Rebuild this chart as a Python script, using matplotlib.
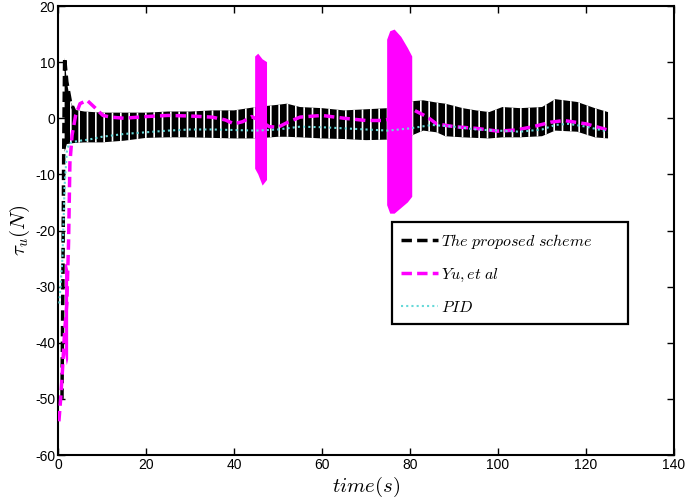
import matplotlib
matplotlib.use("Agg")
import matplotlib.pyplot as plt

plt.rcParams['font.family'] = ['Liberation Sans', 'DejaVu Sans']
plt.rcParams['mathtext.fontset'] = 'cm'
plt.rcParams['axes.unicode_minus'] = False
plt.rcParams['hatch.linewidth'] = 1.2

# proposed scheme: initial spike, then chattering band (upper / lower envelope)
prop_spike_t = [0.9, 1.1, 1.3, 1.5, 2.0, 2.8, 3.8]
prop_spike_v = [-50, -30, -5, 10.8, 6.5, 3.0, 1.2]

prop_t = [1.5, 2.0, 2.8, 3.8, 6, 10, 15, 20, 25, 30, 35, 40, 45, 50, 52, 55, 60, 65,
          70, 75, 80, 83, 86, 88, 92, 95, 98, 101, 105, 110, 113, 118, 122, 125]
prop_hi = [10.8, 6.5, 3.0, 1.5, 1.2, 1.0, 1.0, 1.0, 1.2, 1.2, 1.4, 1.4, 2.0, 2.4, 2.6,
           2.0, 1.8, 1.4, 1.6, 1.8, 3.0, 3.2, 2.8, 2.6, 1.8, 1.4, 1.1, 2.0, 1.8, 2.0,
           3.4, 2.9, 1.8, 1.1]
prop_lo = [-6, -4.6, -4.5, -4.4, -4.3, -4.3, -4.0, -3.5, -3.4, -3.4, -3.5, -3.6, -3.6,
           -3.3, -3.3, -3.4, -3.6, -3.7, -3.9, -3.8, -3.2, -2.2, -2.5, -3.2, -3.4, -3.5,
           -3.6, -3.4, -3.4, -3.2, -2.2, -2.4, -3.4, -3.6]

# Yu, et al
yu_t = [0.2, 0.6, 1.0, 1.5, 2.0, 2.4, 2.7, 3.2, 4.0, 5.0, 6.6, 8.5, 10.2, 12, 15, 20,
        25, 30, 35, 38, 40, 42, 44, 46, 48, 50, 52, 55, 60, 65, 70, 74, 76, 78, 80, 81,
        84, 86, 90, 95, 100, 104, 108, 112, 115, 120, 125]
yu_v = [-54, -50, -45, -38, -33, -22, -8, -3, 0.5, 2.6, 3.2, 1.8, 0.5, 0.2, 0.0, 0.3,
        0.5, 0.4, 0.2, -0.3, -1.0, -0.6, 0.3, -0.5, -1.5, -1.6, -0.8, 0.2, 0.5, 0.0,
        -0.4, -0.4, 0.0, 0.0, 1.0, 1.4, 0.2, -1.0, -1.5, -1.8, -2.3, -2.1, -1.5, -0.7,
        -0.4, -1.0, -2.1]

# Yu, et al chattering bursts
yu_b0_t = [1.6, 2.0, 2.3]
yu_b0_hi = [-26, -26, -27]
yu_b0_lo = [-42, -44, -43]
yu_b1_t = [44.8, 45.5, 46.5, 47.5]
yu_b1_hi = [11.0, 11.5, 10.5, 10.0]
yu_b1_lo = [-9, -10, -12, -11]
yu_b2_t = [74.8, 75.5, 76.5, 78, 79.5, 80.5]
yu_b2_hi = [14, 15.5, 15.8, 14.5, 12.5, 11]
yu_b2_lo = [-15.5, -17, -17, -16, -15, -14]

# PID
pid_t = [0.3, 1.0, 1.5, 2.0, 2.5, 3.5, 5, 7, 10, 15, 20, 25, 30, 35, 40, 45, 50, 55,
         60, 65, 70, 75, 80, 85, 90, 95, 100, 105, 110, 113, 116, 120, 125]
pid_v = [-33, -25, -12, -6, -4.5, -4.2, -4.0, -3.8, -3.3, -2.8, -2.5, -2.2, -2.0, -2.0,
         -2.1, -2.2, -2.0, -1.5, -1.6, -1.8, -2.0, -2.2, -1.8, -1.2, -1.5, -2.0, -2.2,
         -2.4, -2.0, -1.2, -1.0, -1.5, -2.4]

x_ticks = [0, 20, 40, 60, 80, 100, 120, 140]
y_ticks = [-60, -50, -40, -30, -20, -10, 0, 10, 20]


def dibujar(output_path='out.png'):
    fig = plt.figure(figsize=(6.85, 5.0), dpi=100)
    ax = fig.add_axes([0.0847, 0.09, 0.8993, 0.898])

    # proposed scheme
    ax.fill_between(prop_t, prop_lo, prop_hi, facecolor='black', edgecolor='white',
                    hatch='||', linewidth=0, zorder=2)
    ax.plot(prop_spike_t, prop_spike_v, color='black', lw=2.5, ls=(0, (3, 1.5)),
            zorder=2)

    # Yu, et al
    for bt, blo, bhi in [(yu_b0_t, yu_b0_lo, yu_b0_hi),
                         (yu_b1_t, yu_b1_lo, yu_b1_hi),
                         (yu_b2_t, yu_b2_lo, yu_b2_hi)]:
        ax.fill_between(bt, blo, bhi, facecolor='#ff00ff', linewidth=0, zorder=3)
    ax.plot(yu_t, yu_v, color='#ff00ff', lw=2.5, ls=(0, (3, 1.5)), zorder=3)

    # PID
    ax.plot(pid_t, pid_v, color='#66d9d9', lw=1.5, ls=(0, (1, 1.5)), zorder=4)

    # legend handles
    h1, = ax.plot([], [], color='black', lw=2.5, ls=(0, (3, 1.5)))
    h2, = ax.plot([], [], color='#ff00ff', lw=2.5, ls=(0, (3, 1.5)))
    h3, = ax.plot([], [], color='#66d9d9', lw=1.5, ls=(0, (1, 1.5)))
    leg = ax.legend([h1, h2, h3],
                    [r'$The\ proposed\ scheme$', r'$Yu,et\ al$', r'$PID$'],
                    loc='upper left', bbox_to_anchor=(0.542, 0.30, 0.383, 0.219),
                    mode='expand', fontsize=11.5, frameon=True, fancybox=False,
                    framealpha=1, edgecolor='black', handlelength=2.3,
                    handletextpad=0.2, labelspacing=1.0, borderpad=0.6,
                    borderaxespad=0)
    leg.get_frame().set_linewidth(1.6)

    ax.set_xlim(0, 140)
    ax.set_ylim(-60, 20)
    ax.set_xticks(x_ticks)
    ax.set_yticks(y_ticks)
    ax.tick_params(direction='in', top=True, right=True, length=5, width=1,
                   labelsize=10, pad=2)
    for sp in ax.spines.values():
        sp.set_linewidth(1.5)

    ax.set_xlabel(r'$time(s)$', fontsize=15, labelpad=2)
    ax.set_ylabel(r'$\tau_u(N)$', fontsize=15, labelpad=2)

    fig.savefig(output_path, dpi=100)


if __name__ == "__main__":
    dibujar()
